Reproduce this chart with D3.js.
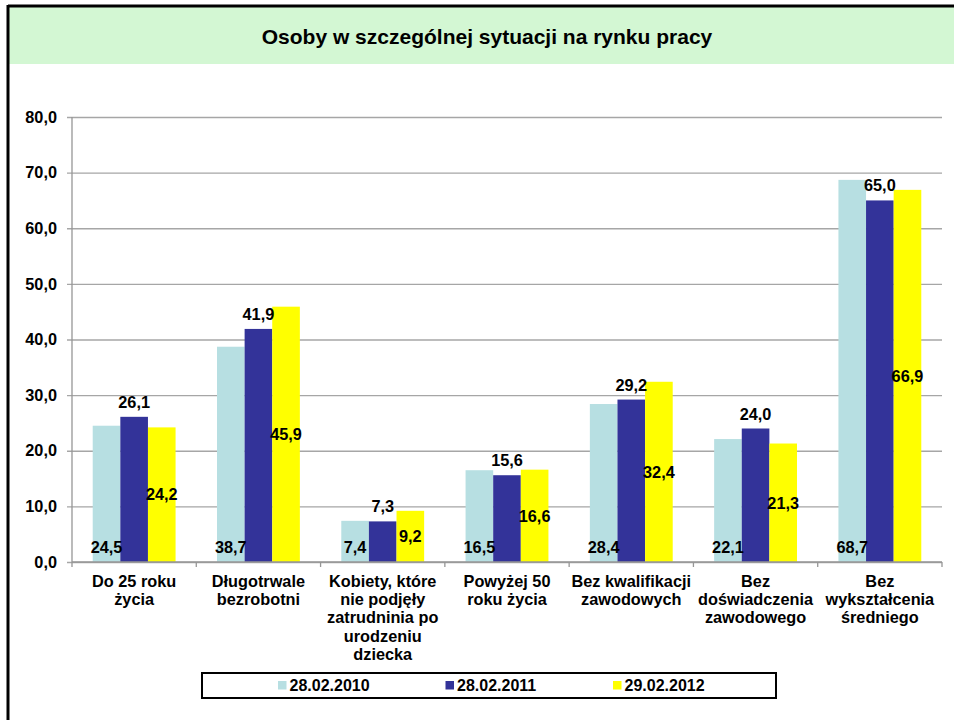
<!DOCTYPE html>
<html>
<head>
<meta charset="utf-8">
<script src="https://cdn.jsdelivr.net/npm/d3@7"></script>
<style>
  body { margin: 0; background: #fff; }
  svg { display: block; font-family: Arial, "Liberation Sans", sans-serif; font-weight: bold; }
</style>
</head>
<body>
<svg id="chart"></svg>
<script>
// Chart data
var categories = [
  ['Do 25 roku', 'życia'],
  ['Długotrwale', 'bezrobotni'],
  ['Kobiety, które', 'nie podjęły', 'zatrudninia po', 'urodzeniu', 'dziecka'],
  ['Powyżej 50', 'roku życia'],
  ['Bez kwalifikacji', 'zawodowych'],
  ['Bez', 'doświadczenia', 'zawodowego'],
  ['Bez', 'wykształcenia', 'średniego']
];
var seriesNames = ['28.02.2010', '28.02.2011', '29.02.2012'];
var values2010 = [24.5, 38.7, 7.4, 16.5, 28.4, 22.1, 68.7];
var values2011 = [26.1, 41.9, 7.3, 15.6, 29.2, 24.0, 65.0];
var values2012 = [24.2, 45.9, 9.2, 16.6, 32.4, 21.3, 66.9];
var yTicks = [0, 10, 20, 30, 40, 50, 60, 70, 80];
var titleText = 'Osoby w szczególnej sytuacji na rynku pracy';

var colors = ['#b7dfe2', '#333399', '#ffff00'];
// where each series puts its value label: base, above, middle
var labelPos = ['base', 'above', 'middle'];

var width = 954;
var height = 720;
var plot = { left: 72, right: 942, top: 117, bottom: 562 };
var labelSize = '16.3px';

var series = [values2010, values2011, values2012];
var fmt = function(v) { return d3.format('.1f')(v).replace('.', ','); };

var svg = d3.select('#chart')
  .attr('width', width)
  .attr('height', height);

// Frame and title band
svg.append('rect')
  .attr('x', 9).attr('y', 7)
  .attr('width', width - 9).attr('height', 57)
  .attr('fill', '#d3f7d3');
svg.append('line')
  .attr('x1', 8).attr('x2', width)
  .attr('y1', 6).attr('y2', 6)
  .attr('stroke', '#000').attr('stroke-width', 3);
svg.append('line')
  .attr('x1', 8).attr('x2', 8)
  .attr('y1', 5).attr('y2', height)
  .attr('stroke', '#000').attr('stroke-width', 3);

svg.append('text')
  .attr('x', 487)
  .attr('y', 44)
  .attr('text-anchor', 'middle')
  .style('font-size', '21px')
  .text(titleText);

// Scales
var x0 = d3.scaleBand()
  .domain(d3.range(categories.length))
  .range([plot.left, plot.right])
  .padding(0);

var x1 = d3.scaleBand()
  .domain(d3.range(series.length))
  .range([0, x0.bandwidth()])
  .paddingInner(0)
  .paddingOuter(0.75);

var y = d3.scaleLinear()
  .domain([0, 80])
  .range([plot.bottom, plot.top]);

// Y axis with gridlines
var yAxis = svg.append('g')
  .attr('transform', 'translate(' + plot.left + ',0)')
  .call(d3.axisLeft(y).tickValues(yTicks).tickFormat(fmt).tickSize(5).tickSizeOuter(0).tickPadding(10));
yAxis.select('.domain').remove();
yAxis.selectAll('.tick line')
  .attr('x1', -5)
  .attr('x2', plot.right - plot.left)
  .attr('stroke', '#a6a6a6')
  .attr('stroke-width', 1.3);
yAxis.selectAll('.tick text')
  .attr('x', -15)
  .style('font-size', labelSize)
  .style('font-family', 'Arial, "Liberation Sans", sans-serif')
  .style('font-weight', 'bold')
  .attr('fill', '#000');

svg.append('line')
  .attr('x1', plot.left).attr('x2', plot.left)
  .attr('y1', plot.top).attr('y2', plot.bottom)
  .attr('stroke', '#969696').attr('stroke-width', 1.3);

// Bars
var groups = svg.append('g')
  .selectAll('.cat')
  .data(categories)
  .enter()
  .append('g')
  .attr('class', 'cat')
  .attr('transform', function(d, i) { return 'translate(' + x0(i) + ',0)'; });

groups.selectAll('rect')
  .data(function(d, i) { return series.map(function(s, j) { return { s: j, v: s[i] }; }); })
  .enter()
  .append('rect')
  .attr('x', function(d) { return x1(d.s); })
  .attr('y', function(d) { return y(d.v); })
  .attr('width', x1.bandwidth())
  .attr('height', function(d) { return y(0) - y(d.v); })
  .attr('fill', function(d) { return colors[d.s]; });

// X axis
svg.append('line')
  .attr('x1', plot.left).attr('x2', plot.right)
  .attr('y1', plot.bottom).attr('y2', plot.bottom)
  .attr('stroke', '#969696').attr('stroke-width', 1.3);

svg.append('g')
  .selectAll('line')
  .data(d3.range(categories.length + 1))
  .enter()
  .append('line')
  .attr('x1', function(d) { return plot.left + d * x0.step(); })
  .attr('x2', function(d) { return plot.left + d * x0.step(); })
  .attr('y1', plot.bottom)
  .attr('y2', plot.bottom + 5)
  .attr('stroke', '#969696').attr('stroke-width', 1.3);

// Category labels
var catLabels = svg.append('g')
  .selectAll('text')
  .data(categories)
  .enter()
  .append('text')
  .attr('text-anchor', 'middle')
  .style('font-size', labelSize)
  .attr('transform', function(d, i) { return 'translate(' + (x0(i) + x0.bandwidth() / 2) + ',' + 587 + ')'; });

catLabels.selectAll('tspan')
  .data(function(d) { return d; })
  .enter()
  .append('tspan')
  .attr('x', 0)
  .attr('y', function(d, i) { return i * 18.2; })
  .text(function(d) { return d; });

// Value labels
groups.selectAll('.val')
  .data(function(d, i) { return series.map(function(s, j) { return { s: j, v: s[i] }; }); })
  .enter()
  .append('text')
  .attr('class', 'val')
  .attr('text-anchor', 'middle')
  .style('font-size', labelSize)
  .attr('x', function(d) { return x1(d.s) + x1.bandwidth() / 2; })
  .attr('y', function(d) {
    var pos = labelPos[d.s];
    if (pos === 'base') return y(0) - 9;
    if (pos === 'above') return y(d.v) - 9;
    return (y(0) + y(d.v)) / 2 + 5.8;
  })
  .text(function(d) { return fmt(d.v); });

// Legend
var legend = svg.append('g');
legend.append('rect')
  .attr('x', 202).attr('y', 673)
  .attr('width', 574).attr('height', 25)
  .attr('fill', '#fff')
  .attr('stroke', '#000')
  .attr('stroke-width', 2);

var legendItems = legend.selectAll('.item')
  .data(seriesNames)
  .enter()
  .append('g')
  .attr('class', 'item')
  .attr('transform', function(d, i) { return 'translate(' + (278 + i * 167.5) + ',681)'; });

legendItems.append('rect')
  .attr('width', 8.5).attr('height', 8.5)
  .attr('fill', function(d, i) { return colors[i]; });

legendItems.append('text')
  .attr('x', 11.5)
  .attr('y', 10)
  .style('font-size', '16px')
  .text(function(d) { return d; });
</script>
</body>
</html>
